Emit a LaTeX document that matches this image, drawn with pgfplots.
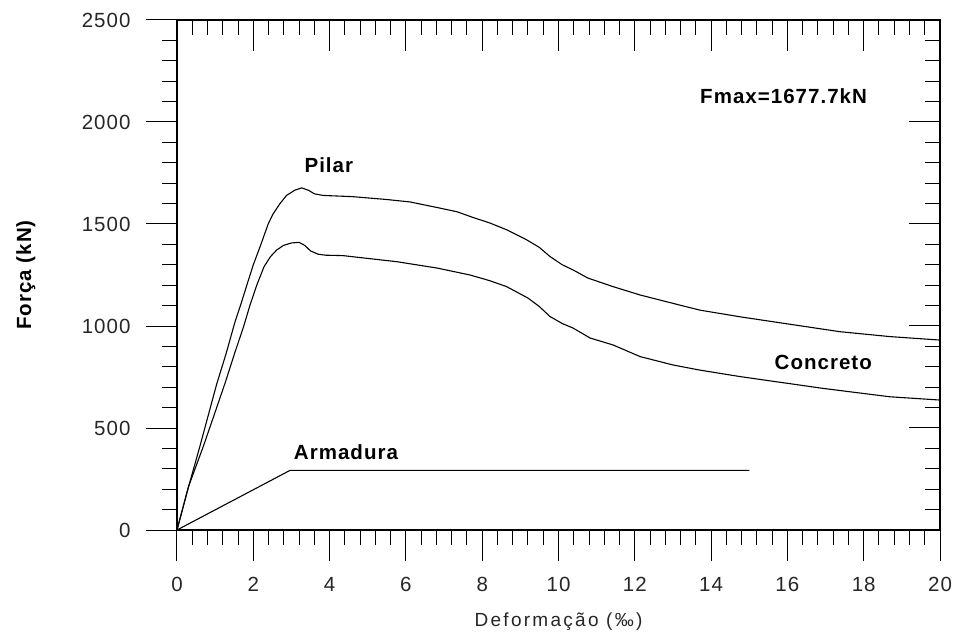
\documentclass[border=0pt]{standalone}
\usepackage{fontspec}
\setmainfont{Liberation Sans}[LetterSpace=5]
\usepackage{pgfplots}
\pgfplotsset{compat=1.18}
\pgfplotstableread{
x y
0 0
0.30 210
0.60 410
1.04 715
1.28 860
1.52 1020
1.68 1110
1.83 1200
2.00 1300
2.20 1400
2.39 1500
2.52 1550
2.70 1600
2.87 1640
3.09 1666
3.27 1677
3.45 1665
3.60 1648
3.83 1640
4.61 1634
5.50 1620
6.11 1608
6.89 1578
7.34 1560
7.76 1532
8.20 1505
8.65 1471
9.17 1422
9.50 1385
9.78 1340
10.10 1300
10.38 1275
10.77 1235
11.43 1193
12.14 1152
13.00 1111
13.70 1078
14.76 1045
15.80 1016
17.38 972
18.69 948
20.00 931
}\pilar
\pgfplotstableread{
x y
0 0
0.30 212
0.69 410
1.04 600
1.26 720
1.50 860
1.75 1000
1.91 1100
2.09 1200
2.28 1290
2.45 1340
2.61 1372
2.79 1395
3.00 1407
3.20 1410
3.35 1395
3.50 1368
3.70 1352
3.90 1347
4.35 1345
5.77 1315
6.82 1284
7.68 1250
8.20 1222
8.64 1193
9.20 1137
9.50 1095
9.78 1046
10.10 1012
10.38 990
10.83 941
11.43 907
12.14 850
13.00 809
13.70 784
14.76 752
16.94 694
18.69 653
20.00 637
}\concreto
\pgfplotstableread{
x y
0 0
2.96 292
15.0 292
}\armadura
\begin{document}
\begin{tikzpicture}
\pgfplotsset{common/.style={
  scale only axis, width=763bp, height=510bp,
  xmin=0, xmax=20, ymin=0, ymax=2500,
  xtick distance=2, ytick distance=500,
  minor x tick num=4, minor y tick num=4,
  major tick length=31bp, minor tick length=15bp,
  every tick/.style={black, line width=1bp},
  axis line style={black, line width=1.2bp},
  at={(0,0)}, anchor=south west,
}}
\begin{axis}[common, xtick pos=right, ytick pos=right, tick align=inside,
  xticklabels={}, yticklabels={}]
\end{axis}
\begin{axis}[common, name=ax, xtick pos=left, ytick pos=left, tick align=outside,
  tick label style={font=\fontsize{20.5bp}{24bp}\selectfont, text=black!85},
  xticklabel style={yshift=-13bp},
  yticklabel style={xshift=-12bp},
  /pgf/number format/assume math mode=true,
  /pgf/number format/1000 sep={},
  xlabel={Deformação (‰)},
  ylabel={Força (kN)},
  xlabel style={font=\fontsize{19bp}{22bp}\selectfont\addfontfeature{LetterSpace=12}, text=black!85, at={(axis description cs:0.5,-0.1804)}, anchor=center},
  ylabel style={font=\bfseries\fontsize{20.5bp}{24bp}\selectfont, at={(axis description cs:-0.198,0.5)}, anchor=center},
  clip=false]
\addplot[black, line width=1.1bp] table[x=x,y=y] {\pilar};
\addplot[black, line width=1.1bp] table[x=x,y=y] {\concreto};
\addplot[black, line width=1.1bp] table[x=x,y=y] {\armadura};
\node[font=\bfseries\fontsize{20.5bp}{24bp}\selectfont] at (axis cs:15.9,2127) {Fmax=1677.7kN};
\node[font=\bfseries\fontsize{20.5bp}{24bp}\selectfont] at (axis cs:3.98,1789) {Pilar};
\node[font=\bfseries\fontsize{20.5bp}{24bp}\selectfont] at (axis cs:16.94,820) {Concreto};
\node[font=\bfseries\fontsize{20.5bp}{24bp}\selectfont] at (axis cs:4.43,382) {Armadura};
\end{axis}
\pgfresetboundingbox
\path (ax.south west) ++(-177bp,-105bp) rectangle ++(956bp,635bp);
\end{tikzpicture}
\end{document}
